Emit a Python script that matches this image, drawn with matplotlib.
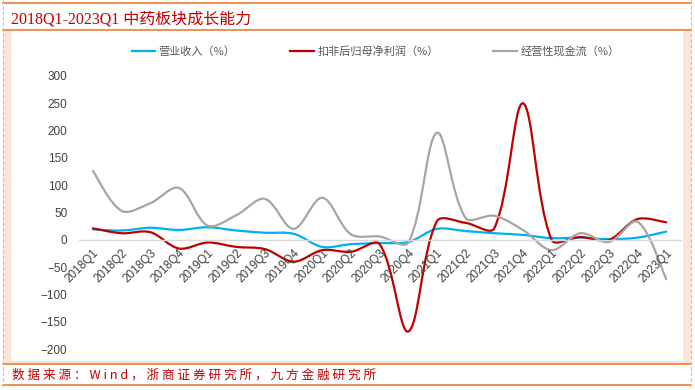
import numpy as np
import matplotlib
matplotlib.use("Agg")
import matplotlib.pyplot as plt
from matplotlib.path import Path
from matplotlib.patches import PathPatch, Rectangle
from matplotlib.lines import Line2D

CJK = ['Noto Sans CJK SC', 'DejaVu Sans']

quarters = ["2018Q1", "2018Q2", "2018Q3", "2018Q4",
            "2019Q1", "2019Q2", "2019Q3", "2019Q4",
            "2020Q1", "2020Q2", "2020Q3", "2020Q4",
            "2021Q1", "2021Q2", "2021Q3", "2021Q4",
            "2022Q1", "2022Q2", "2022Q3", "2022Q4",
            "2023Q1"]

# 营业收入（%）
revenue = [19, 17, 22, 18, 23, 17, 13, 11, -13, -8, -6, -4,
           20, 16, 12, 9, 3, 4, 1, 4, 15]
# 扣非后归母净利润（%）
net_profit = [21, 12, 14, -16, -5, -13, -17, -40, -19, -22, -8, -168,
              34, 31, 21, 250, 0, 5, 0, 38, 32]
# 经营性现金流（%）
cash_flow = [126, 53, 67, 95, 26, 45, 75, 20, 77, 10, 6, -5,
             196, 40, 44, 18, -19, 12, -4, 33, -72]

series = [
    ("营业收入（%）", revenue, "#00b0f0"),
    ("扣非后归母净利润（%）", net_profit, "#c00000"),
    ("经营性现金流（%）", cash_flow, "#a6a6a6"),
]

title = "2018Q1-2023Q1 中药板块成长能力"
source = "数据来源：Wind，浙商证券研究所，九方金融研究所"

W, H = 695, 390
AX_W, AX_H = 602, 273
YMIN, YMAX = -200, 300


def smooth_path(xs, ys, sx, sy):
    """仿 Excel 平滑线：贝塞尔控制点按相邻线段（像素）长度缩放"""
    n = len(xs)
    P = np.column_stack([np.asarray(xs, float) * sx, np.asarray(ys, float) * sy])
    verts = [tuple(P[0])]
    codes = [Path.MOVETO]
    for i in range(n - 1):
        p0 = P[max(i - 1, 0)]
        p1, p2 = P[i], P[i + 1]
        p3 = P[min(i + 2, n - 1)]
        d01 = np.hypot(*(p1 - p0))
        d12 = np.hypot(*(p2 - p1))
        d23 = np.hypot(*(p3 - p2))
        r1 = d12 / (d01 + d12) if d01 + d12 > 0 else 0.5
        r2 = d12 / (d12 + d23) if d12 + d23 > 0 else 0.5
        if i == 0:
            r1 = 0.5
        if i == n - 2:
            r2 = 0.5
        c1 = p1 + (p2 - p0) * r1 / 3
        c2 = p2 - (p3 - p1) * r2 / 3
        verts += [tuple(c1), tuple(c2), tuple(p2)]
        codes += [Path.CURVE4] * 3
    verts = [(vx / sx, vy / sy) for vx, vy in verts]
    return Path(verts, codes)


fig = plt.figure(figsize=(W / 100, H / 100), dpi=100)

# 背景框（像素坐标）
bg = fig.add_axes([0, 0, 1, 1], zorder=0)
bg.set_xlim(0, W)
bg.set_ylim(H, 0)
bg.axis("off")
bg.add_patch(Rectangle((3, 31), 688, 332, facecolor="#fce4d6", edgecolor="none"))
bg.add_patch(Rectangle((11, 31), 672, 330, facecolor="white", edgecolor="none"))
orange = "#ed7d31"
for yy in (3, 30, 364, 385):
    bg.plot([3, 691], [yy, yy], color=orange, lw=1.2)
for xx in (3, 691):
    bg.plot([xx, xx], [0, 388], color="#bfbfbf", lw=0.8, ls=(0, (3, 2)))
bg.text(11, 24, title, color="#c00000", fontsize=11.5,
        family=['Liberation Serif', 'Noto Sans CJK SC'], va="baseline")
bg.text(12, 375, " ".join(source), color="#c00000", fontsize=9.1,
        family=CJK, va="center")

# 主图
ax = fig.add_axes([78.6 / W, 1 - 349 / H, AX_W / W, AX_H / H], zorder=1)
ax.set_facecolor("none")
x = np.arange(len(quarters))
sx = AX_W / len(quarters)
sy = AX_H / (YMAX - YMIN)
for label, vals, color in series:
    ax.add_patch(PathPatch(smooth_path(x, vals, sx, sy), fill=False,
                           edgecolor=color, lw=1.6, capstyle="round"))

ax.set_xlim(-0.5, len(quarters) - 0.5)
ax.set_ylim(YMIN, YMAX)
ax.set_yticks(np.arange(YMIN, YMAX + 1, 50))
for s in ("top", "right", "left"):
    ax.spines[s].set_visible(False)
ax.spines["bottom"].set_position(("data", 0))
ax.spines["bottom"].set_color("#d9d9d9")
ax.spines["bottom"].set_linewidth(1.0)
ax.set_xticks(x)
ax.set_xticklabels(quarters, rotation=45, ha="right", va="top",
                   rotation_mode="anchor")
ax.tick_params(axis="both", length=0, labelsize=8.5, labelcolor="#404040")
ax.tick_params(axis="y", pad=8)
ax.tick_params(axis="x", pad=5)
for t in ax.get_xticklabels() + ax.get_yticklabels():
    t.set_family("Liberation Sans")

handles = [Line2D([], [], color=c, lw=1.6) for _, _, c in series]
fig.legend(handles, [s[0] for s in series], loc="center",
           bbox_to_anchor=(375.5 / W, 1 - 51.7 / H), ncol=3, frameon=False,
           prop={"family": CJK, "size": 8}, labelcolor="#595959",
           handlelength=2.15, handletextpad=0.3, columnspacing=4.9)

fig.savefig("out.png", dpi=100)
